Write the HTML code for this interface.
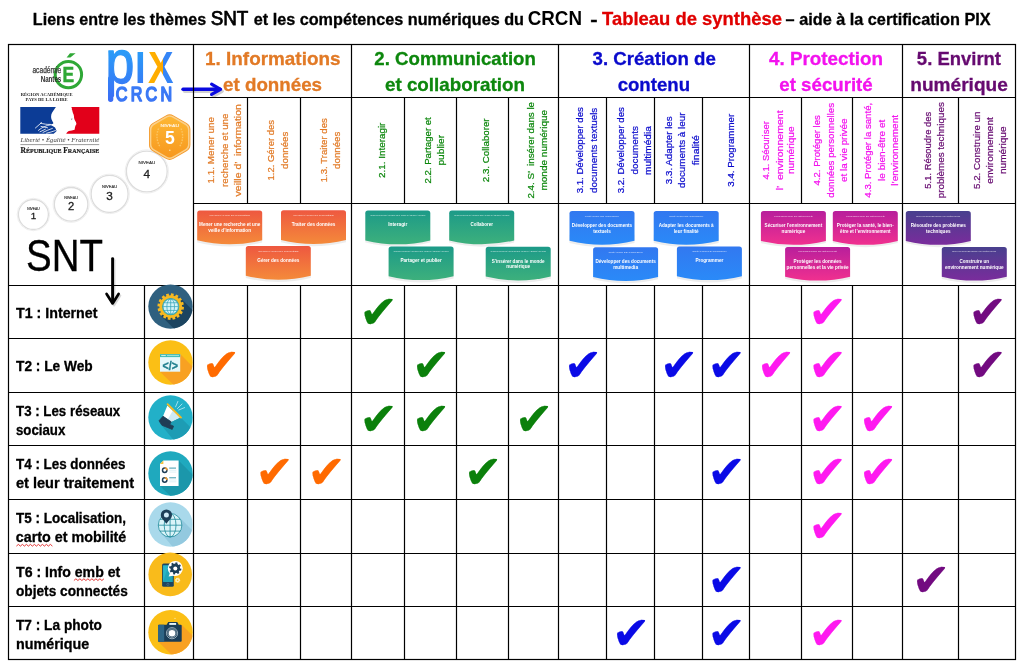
<!DOCTYPE html>
<html lang="fr"><head><meta charset="utf-8"><title>Liens SNT – CRCN : tableau de synthèse</title>
<style>html,body{margin:0;padding:0;background:#fff}body{width:1025px;height:665px;overflow:hidden}svg{display:block;will-change:transform}text{white-space:pre}</style></head><body>
<svg width="1025" height="665" viewBox="0 0 1025 665">
<defs>
<linearGradient id="go" x1="0" y1="0" x2="0" y2="1"><stop offset="0" stop-color="#ee5840"/><stop offset="1" stop-color="#f48a3a"/></linearGradient>
<linearGradient id="gg" x1="0" y1="0" x2="0" y2="1"><stop offset="0" stop-color="#1c9a88"/><stop offset="1" stop-color="#3db07c"/></linearGradient>
<linearGradient id="gb" x1="0" y1="0" x2="0" y2="1"><stop offset="0" stop-color="#3278f0"/><stop offset="1" stop-color="#2a8af8"/></linearGradient>
<linearGradient id="gm" x1="0" y1="0" x2="0" y2="1"><stop offset="0" stop-color="#b81f9c"/><stop offset="1" stop-color="#f0308f"/></linearGradient>
<linearGradient id="gp" x1="0" y1="0" x2="0" y2="1"><stop offset="0" stop-color="#48408e"/><stop offset="1" stop-color="#7a2c9c"/></linearGradient>
<linearGradient id="gpix" gradientUnits="userSpaceOnUse" x1="0" y1="-32" x2="0" y2="18"><stop offset="0" stop-color="#2a9cf8"/><stop offset="1" stop-color="#3b6cf5"/></linearGradient>
<linearGradient id="gpix2" gradientUnits="userSpaceOnUse" x1="0" y1="-22" x2="0" y2="22"><stop offset="0" stop-color="#3a7ef6"/><stop offset="1" stop-color="#3b6ef5"/></linearGradient>
<linearGradient id="gx" gradientUnits="userSpaceOnUse" x1="174.12" y1="0" x2="204.12" y2="0"><stop offset="0" stop-color="#ffb300"/><stop offset="0.57" stop-color="#ffa800"/><stop offset="0.57" stop-color="#3585f6"/><stop offset="1" stop-color="#3585f6"/></linearGradient>
<linearGradient id="gpixabs" gradientUnits="userSpaceOnUse" x1="0" y1="51" x2="0" y2="101"><stop offset="0" stop-color="#2a9cf8"/><stop offset="1" stop-color="#3b6cf5"/></linearGradient>
<linearGradient id="ghex" x1="0" y1="0" x2="0" y2="1"><stop offset="0" stop-color="#fdb734"/><stop offset="1" stop-color="#f7981f"/></linearGradient>
</defs>
<rect width="1025" height="665" fill="#fff"/>
<g id="title">
<text font-family="&quot;Liberation Sans&quot;, Arial, sans-serif" font-size="16.43" font-weight="bold" fill="#000" textLength="173.23" lengthAdjust="spacingAndGlyphs" x="32.86" y="24.60" stroke="#000" stroke-width="0.3">Liens entre les thèmes</text>
<text font-family="&quot;Liberation Sans&quot;, Arial, sans-serif" font-size="20.59" fill="#000" textLength="37.73" lengthAdjust="spacingAndGlyphs" x="210.65" y="24.60" stroke="#000" stroke-width="0.75">SNT</text>
<text font-family="&quot;Liberation Sans&quot;, Arial, sans-serif" font-size="16.43" font-weight="bold" fill="#000" textLength="270.24" lengthAdjust="spacingAndGlyphs" x="253.75" y="24.60" stroke="#000" stroke-width="0.3">et les compétences numériques du</text>
<text font-family="&quot;Liberation Sans&quot;, Arial, sans-serif" font-size="20.06" font-weight="bold" fill="#000" textLength="54.24" lengthAdjust="spacingAndGlyphs" x="527.75" y="24.60">CRCN</text>
<text font-family="&quot;Liberation Sans&quot;, Arial, sans-serif" font-size="16.43" font-weight="bold" fill="#000" textLength="7.31" lengthAdjust="spacingAndGlyphs" x="590.32" y="24.60" stroke="#000" stroke-width="0.3">-</text>
<text font-family="&quot;Liberation Sans&quot;, Arial, sans-serif" font-size="18.77" font-weight="bold" fill="#e00000" textLength="179.88" lengthAdjust="spacingAndGlyphs" x="602.02" y="24.60" stroke="#e00000" stroke-width="0.3">Tableau de synthèse</text>
<text font-family="&quot;Liberation Sans&quot;, Arial, sans-serif" font-size="16.43" font-weight="bold" fill="#000" textLength="205.07" lengthAdjust="spacingAndGlyphs" x="785.61" y="24.60" stroke="#000" stroke-width="0.3">– aide à la certification PIX</text>
</g>
<g id="headers">
<text font-family="&quot;Liberation Sans&quot;, Arial, sans-serif" font-size="18.77" font-weight="bold" fill="#e27a26" textLength="135.46" lengthAdjust="spacingAndGlyphs" x="205.04" y="65.00" stroke="#e27a26" stroke-width="0.3">1. Informations</text>
<text font-family="&quot;Liberation Sans&quot;, Arial, sans-serif" font-size="18.77" font-weight="bold" fill="#e27a26" textLength="98.96" lengthAdjust="spacingAndGlyphs" x="223.09" y="90.60" stroke="#e27a26" stroke-width="0.3">et données</text>
<text font-family="&quot;Liberation Sans&quot;, Arial, sans-serif" font-size="18.77" font-weight="bold" fill="#0d870d" textLength="161.47" lengthAdjust="spacingAndGlyphs" x="374.37" y="65.00" stroke="#0d870d" stroke-width="0.3">2. Communication</text>
<text font-family="&quot;Liberation Sans&quot;, Arial, sans-serif" font-size="18.77" font-weight="bold" fill="#0d870d" textLength="140.00" lengthAdjust="spacingAndGlyphs" x="384.95" y="90.60" stroke="#0d870d" stroke-width="0.3">et collaboration</text>
<text font-family="&quot;Liberation Sans&quot;, Arial, sans-serif" font-size="18.77" font-weight="bold" fill="#0a0acc" textLength="123.29" lengthAdjust="spacingAndGlyphs" x="592.56" y="65.00" stroke="#0a0acc" stroke-width="0.3">3. Création de</text>
<text font-family="&quot;Liberation Sans&quot;, Arial, sans-serif" font-size="18.77" font-weight="bold" fill="#0a0acc" textLength="72.43" lengthAdjust="spacingAndGlyphs" x="617.64" y="90.60" stroke="#0a0acc" stroke-width="0.3">contenu</text>
<text font-family="&quot;Liberation Sans&quot;, Arial, sans-serif" font-size="18.77" font-weight="bold" fill="#f312ee" textLength="113.96" lengthAdjust="spacingAndGlyphs" x="768.99" y="65.00" stroke="#f312ee" stroke-width="0.3">4. Protection</text>
<text font-family="&quot;Liberation Sans&quot;, Arial, sans-serif" font-size="18.77" font-weight="bold" fill="#f312ee" textLength="93.38" lengthAdjust="spacingAndGlyphs" x="779.33" y="90.60" stroke="#f312ee" stroke-width="0.3">et sécurité</text>
<text font-family="&quot;Liberation Sans&quot;, Arial, sans-serif" font-size="18.77" font-weight="bold" fill="#660a70" textLength="84.17" lengthAdjust="spacingAndGlyphs" x="916.87" y="65.00" stroke="#660a70" stroke-width="0.3">5. Envirnt</text>
<text font-family="&quot;Liberation Sans&quot;, Arial, sans-serif" font-size="18.77" font-weight="bold" fill="#660a70" textLength="97.50" lengthAdjust="spacingAndGlyphs" x="910.32" y="90.60" stroke="#660a70" stroke-width="0.3">numérique</text>
</g>
<g id="subheaders">
<text font-family="&quot;Liberation Sans&quot;, Arial, sans-serif" font-size="9.39" fill="#e27a26" textLength="66.50" lengthAdjust="spacingAndGlyphs" transform="translate(213.90,183.44) rotate(-90)" stroke="#e27a26" stroke-width="0.22">1.1. Mener une</text>
<text font-family="&quot;Liberation Sans&quot;, Arial, sans-serif" font-size="9.39" fill="#e27a26" textLength="73.47" lengthAdjust="spacingAndGlyphs" transform="translate(228.00,186.98) rotate(-90)" stroke="#e27a26" stroke-width="0.22">recherche et une</text>
<text font-family="&quot;Liberation Sans&quot;, Arial, sans-serif" font-size="9.39" fill="#e27a26" textLength="92.25" lengthAdjust="spacingAndGlyphs" transform="translate(241.00,196.39) rotate(-90)" stroke="#e27a26" stroke-width="0.22">veille d’  information</text>
<text font-family="&quot;Liberation Sans&quot;, Arial, sans-serif" font-size="9.39" fill="#e27a26" textLength="60.60" lengthAdjust="spacingAndGlyphs" transform="translate(274.00,180.49) rotate(-90)" stroke="#e27a26" stroke-width="0.22">1.2. Gérer des</text>
<text font-family="&quot;Liberation Sans&quot;, Arial, sans-serif" font-size="9.39" fill="#e27a26" textLength="37.29" lengthAdjust="spacingAndGlyphs" transform="translate(287.60,168.93) rotate(-90)" stroke="#e27a26" stroke-width="0.22">données</text>
<text font-family="&quot;Liberation Sans&quot;, Arial, sans-serif" font-size="9.39" fill="#e27a26" textLength="64.01" lengthAdjust="spacingAndGlyphs" transform="translate(326.70,182.22) rotate(-90)" stroke="#e27a26" stroke-width="0.22">1.3. Traiter des</text>
<text font-family="&quot;Liberation Sans&quot;, Arial, sans-serif" font-size="9.39" fill="#e27a26" textLength="37.29" lengthAdjust="spacingAndGlyphs" transform="translate(340.00,168.93) rotate(-90)" stroke="#e27a26" stroke-width="0.22">données</text>
<text font-family="&quot;Liberation Sans&quot;, Arial, sans-serif" font-size="9.39" fill="#0d870d" textLength="55.37" lengthAdjust="spacingAndGlyphs" transform="translate(385.30,178.01) rotate(-90)" stroke="#0d870d" stroke-width="0.22">2.1. Interagir</text>
<text font-family="&quot;Liberation Sans&quot;, Arial, sans-serif" font-size="9.39" fill="#0d870d" textLength="66.34" lengthAdjust="spacingAndGlyphs" transform="translate(431.30,183.54) rotate(-90)" stroke="#0d870d" stroke-width="0.22">2.2. Partager et</text>
<text font-family="&quot;Liberation Sans&quot;, Arial, sans-serif" font-size="9.39" fill="#0d870d" textLength="30.66" lengthAdjust="spacingAndGlyphs" transform="translate(444.20,165.59) rotate(-90)" stroke="#0d870d" stroke-width="0.22">publier</text>
<text font-family="&quot;Liberation Sans&quot;, Arial, sans-serif" font-size="9.39" fill="#0d870d" textLength="63.79" lengthAdjust="spacingAndGlyphs" transform="translate(489.30,182.20) rotate(-90)" stroke="#0d870d" stroke-width="0.22">2.3. Collaborer</text>
<text font-family="&quot;Liberation Sans&quot;, Arial, sans-serif" font-size="9.39" fill="#0d870d" textLength="96.63" lengthAdjust="spacingAndGlyphs" transform="translate(533.70,198.59) rotate(-90)" stroke="#0d870d" stroke-width="0.22">2.4. S’  insérer dans le</text>
<text font-family="&quot;Liberation Sans&quot;, Arial, sans-serif" font-size="9.39" fill="#0d870d" textLength="80.76" lengthAdjust="spacingAndGlyphs" transform="translate(547.00,190.61) rotate(-90)" stroke="#0d870d" stroke-width="0.22">monde numérique</text>
<text font-family="&quot;Liberation Sans&quot;, Arial, sans-serif" font-size="9.39" fill="#0a0acc" textLength="86.19" lengthAdjust="spacingAndGlyphs" transform="translate(583.20,193.34) rotate(-90)" stroke="#0a0acc" stroke-width="0.22">3.1. Développer des</text>
<text font-family="&quot;Liberation Sans&quot;, Arial, sans-serif" font-size="9.39" fill="#0a0acc" textLength="85.26" lengthAdjust="spacingAndGlyphs" transform="translate(596.80,192.93) rotate(-90)" stroke="#0a0acc" stroke-width="0.22">documents textuels</text>
<text font-family="&quot;Liberation Sans&quot;, Arial, sans-serif" font-size="9.39" fill="#0a0acc" textLength="86.19" lengthAdjust="spacingAndGlyphs" transform="translate(623.60,193.34) rotate(-90)" stroke="#0a0acc" stroke-width="0.22">3.2. Développer des</text>
<text font-family="&quot;Liberation Sans&quot;, Arial, sans-serif" font-size="9.39" fill="#0a0acc" textLength="48.51" lengthAdjust="spacingAndGlyphs" transform="translate(637.60,174.54) rotate(-90)" stroke="#0a0acc" stroke-width="0.22">documents</text>
<text font-family="&quot;Liberation Sans&quot;, Arial, sans-serif" font-size="9.39" fill="#0a0acc" textLength="48.78" lengthAdjust="spacingAndGlyphs" transform="translate(651.00,174.97) rotate(-90)" stroke="#0a0acc" stroke-width="0.22">multimédia</text>
<text font-family="&quot;Liberation Sans&quot;, Arial, sans-serif" font-size="9.39" fill="#0a0acc" textLength="67.79" lengthAdjust="spacingAndGlyphs" transform="translate(672.10,184.16) rotate(-90)" stroke="#0a0acc" stroke-width="0.22">3.3. Adapter les</text>
<text font-family="&quot;Liberation Sans&quot;, Arial, sans-serif" font-size="9.39" fill="#0a0acc" textLength="75.46" lengthAdjust="spacingAndGlyphs" transform="translate(685.40,188.05) rotate(-90)" stroke="#0a0acc" stroke-width="0.22">documents à leur</text>
<text font-family="&quot;Liberation Sans&quot;, Arial, sans-serif" font-size="9.39" fill="#0a0acc" textLength="30.14" lengthAdjust="spacingAndGlyphs" transform="translate(698.60,165.37) rotate(-90)" stroke="#0a0acc" stroke-width="0.22">finalité</text>
<text font-family="&quot;Liberation Sans&quot;, Arial, sans-serif" font-size="9.39" fill="#0a0acc" textLength="72.90" lengthAdjust="spacingAndGlyphs" transform="translate(733.70,186.72) rotate(-90)" stroke="#0a0acc" stroke-width="0.22">3.4. Programmer</text>
<text font-family="&quot;Liberation Sans&quot;, Arial, sans-serif" font-size="9.39" fill="#f312ee" textLength="58.31" lengthAdjust="spacingAndGlyphs" transform="translate(769.10,179.49) rotate(-90)" stroke="#f312ee" stroke-width="0.22">4.1. Sécuriser</text>
<text font-family="&quot;Liberation Sans&quot;, Arial, sans-serif" font-size="9.39" fill="#f312ee" textLength="79.87" lengthAdjust="spacingAndGlyphs" transform="translate(782.60,190.25) rotate(-90)" stroke="#f312ee" stroke-width="0.22">l’  environnement</text>
<text font-family="&quot;Liberation Sans&quot;, Arial, sans-serif" font-size="9.39" fill="#f312ee" textLength="47.69" lengthAdjust="spacingAndGlyphs" transform="translate(794.00,174.08) rotate(-90)" stroke="#f312ee" stroke-width="0.22">numérique</text>
<text font-family="&quot;Liberation Sans&quot;, Arial, sans-serif" font-size="9.39" fill="#f312ee" textLength="70.39" lengthAdjust="spacingAndGlyphs" transform="translate(819.80,185.52) rotate(-90)" stroke="#f312ee" stroke-width="0.22">4.2. Protéger les</text>
<text font-family="&quot;Liberation Sans&quot;, Arial, sans-serif" font-size="9.39" fill="#f312ee" textLength="94.84" lengthAdjust="spacingAndGlyphs" transform="translate(833.60,197.72) rotate(-90)" stroke="#f312ee" stroke-width="0.22">données personnelles</text>
<text font-family="&quot;Liberation Sans&quot;, Arial, sans-serif" font-size="9.39" fill="#f312ee" textLength="63.39" lengthAdjust="spacingAndGlyphs" transform="translate(846.60,181.97) rotate(-90)" stroke="#f312ee" stroke-width="0.22">et la vie privée</text>
<text font-family="&quot;Liberation Sans&quot;, Arial, sans-serif" font-size="9.39" fill="#f312ee" textLength="94.85" lengthAdjust="spacingAndGlyphs" transform="translate(870.50,197.65) rotate(-90)" stroke="#f312ee" stroke-width="0.22">4.3. Protéger la santé,</text>
<text font-family="&quot;Liberation Sans&quot;, Arial, sans-serif" font-size="9.39" fill="#f312ee" textLength="61.14" lengthAdjust="spacingAndGlyphs" transform="translate(884.60,180.88) rotate(-90)" stroke="#f312ee" stroke-width="0.22">le bien-être et</text>
<text font-family="&quot;Liberation Sans&quot;, Arial, sans-serif" font-size="9.39" fill="#f312ee" textLength="70.75" lengthAdjust="spacingAndGlyphs" transform="translate(898.00,185.69) rotate(-90)" stroke="#f312ee" stroke-width="0.22">l’environnement</text>
<text font-family="&quot;Liberation Sans&quot;, Arial, sans-serif" font-size="9.39" fill="#660a70" textLength="76.85" lengthAdjust="spacingAndGlyphs" transform="translate(931.40,188.66) rotate(-90)" stroke="#660a70" stroke-width="0.22">5.1. Résoudre des</text>
<text font-family="&quot;Liberation Sans&quot;, Arial, sans-serif" font-size="9.39" fill="#660a70" textLength="96.10" lengthAdjust="spacingAndGlyphs" transform="translate(944.40,198.29) rotate(-90)" stroke="#660a70" stroke-width="0.22">problèmes techniques</text>
<text font-family="&quot;Liberation Sans&quot;, Arial, sans-serif" font-size="9.39" fill="#660a70" textLength="77.36" lengthAdjust="spacingAndGlyphs" transform="translate(980.00,188.94) rotate(-90)" stroke="#660a70" stroke-width="0.22">5.2. Construire un</text>
<text font-family="&quot;Liberation Sans&quot;, Arial, sans-serif" font-size="9.39" fill="#660a70" textLength="66.50" lengthAdjust="spacingAndGlyphs" transform="translate(993.40,183.64) rotate(-90)" stroke="#660a70" stroke-width="0.22">environnement</text>
<text font-family="&quot;Liberation Sans&quot;, Arial, sans-serif" font-size="9.39" fill="#660a70" textLength="47.69" lengthAdjust="spacingAndGlyphs" transform="translate(1006.00,174.08) rotate(-90)" stroke="#660a70" stroke-width="0.22">numérique</text>
</g>
<g id="cards">
<path d="M197.2,234.3 L197.2,242.5 Q229.7,250.7 262.2,242.5 L262.2,234.3Z" fill="#000" opacity="0.07"/>
<path d="M197.2,213.1 Q197.2,210.5 199.8,210.5 L259.6,210.5 Q262.2,210.5 262.2,213.1 L262.2,240.3 Q229.7,248.1 197.2,240.3Z" fill="url(#go)"/>
<text font-family="&quot;Liberation Sans&quot;, Arial, sans-serif" font-size="2.40" fill="#fff" textLength="40.60" lengthAdjust="spacingAndGlyphs" x="209.40" y="216.00" opacity="0.72">INFORMATION ET DONNÉES</text>
<text font-family="&quot;Liberation Sans&quot;, Arial, sans-serif" font-size="4.75" font-weight="bold" fill="#fff" textLength="61.20" lengthAdjust="spacingAndGlyphs" x="199.10" y="226.30">Mener une recherche et une</text>
<text font-family="&quot;Liberation Sans&quot;, Arial, sans-serif" font-size="4.75" font-weight="bold" fill="#fff" textLength="42.70" lengthAdjust="spacingAndGlyphs" x="208.35" y="232.10">veille d’information</text>
<path d="M281.0,234.0 L281.0,242.2 Q313.5,250.4 346.0,242.2 L346.0,234.0Z" fill="#000" opacity="0.07"/>
<path d="M281.0,212.8 Q281.0,210.2 283.6,210.2 L343.4,210.2 Q346.0,210.2 346.0,212.8 L346.0,240.0 Q313.5,247.8 281.0,240.0Z" fill="url(#go)"/>
<text font-family="&quot;Liberation Sans&quot;, Arial, sans-serif" font-size="2.40" fill="#fff" textLength="40.60" lengthAdjust="spacingAndGlyphs" x="293.20" y="215.70" opacity="0.72">INFORMATION ET DONNÉES</text>
<text font-family="&quot;Liberation Sans&quot;, Arial, sans-serif" font-size="4.75" font-weight="bold" fill="#fff" textLength="43.70" lengthAdjust="spacingAndGlyphs" x="291.65" y="226.00">Traiter des données</text>
<path d="M245.8,269.8 L245.8,278.0 Q278.3,286.2 310.8,278.0 L310.8,269.8Z" fill="#000" opacity="0.07"/>
<path d="M245.8,248.6 Q245.8,246.0 248.4,246.0 L308.2,246.0 Q310.8,246.0 310.8,248.6 L310.8,275.8 Q278.3,283.6 245.8,275.8Z" fill="url(#go)"/>
<text font-family="&quot;Liberation Sans&quot;, Arial, sans-serif" font-size="2.40" fill="#fff" textLength="40.60" lengthAdjust="spacingAndGlyphs" x="258.00" y="251.50" opacity="0.72">INFORMATION ET DONNÉES</text>
<text font-family="&quot;Liberation Sans&quot;, Arial, sans-serif" font-size="4.75" font-weight="bold" fill="#fff" textLength="42.00" lengthAdjust="spacingAndGlyphs" x="257.30" y="261.80">Gérer des données</text>
<path d="M365.3,234.4 L365.3,242.6 Q397.8,250.8 430.3,242.6 L430.3,234.4Z" fill="#000" opacity="0.07"/>
<path d="M365.3,213.2 Q365.3,210.6 367.9,210.6 L427.7,210.6 Q430.3,210.6 430.3,213.2 L430.3,240.4 Q397.8,248.2 365.3,240.4Z" fill="url(#gg)"/>
<text font-family="&quot;Liberation Sans&quot;, Arial, sans-serif" font-size="2.40" fill="#fff" textLength="55.30" lengthAdjust="spacingAndGlyphs" x="370.15" y="216.10" opacity="0.72">COMMUNICATION ET COLLABORATION</text>
<text font-family="&quot;Liberation Sans&quot;, Arial, sans-serif" font-size="4.75" font-weight="bold" fill="#fff" textLength="19.00" lengthAdjust="spacingAndGlyphs" x="388.30" y="226.40">Interagir</text>
<path d="M449.2,234.4 L449.2,242.6 Q481.7,250.8 514.2,242.6 L514.2,234.4Z" fill="#000" opacity="0.07"/>
<path d="M449.2,213.2 Q449.2,210.6 451.8,210.6 L511.6,210.6 Q514.2,210.6 514.2,213.2 L514.2,240.4 Q481.7,248.2 449.2,240.4Z" fill="url(#gg)"/>
<text font-family="&quot;Liberation Sans&quot;, Arial, sans-serif" font-size="2.40" fill="#fff" textLength="55.30" lengthAdjust="spacingAndGlyphs" x="454.05" y="216.10" opacity="0.72">COMMUNICATION ET COLLABORATION</text>
<text font-family="&quot;Liberation Sans&quot;, Arial, sans-serif" font-size="4.75" font-weight="bold" fill="#fff" textLength="22.60" lengthAdjust="spacingAndGlyphs" x="470.40" y="226.40">Collaborer</text>
<path d="M388.6,270.2 L388.6,278.4 Q421.1,286.6 453.6,278.4 L453.6,270.2Z" fill="#000" opacity="0.07"/>
<path d="M388.6,249.0 Q388.6,246.4 391.2,246.4 L451.0,246.4 Q453.6,246.4 453.6,249.0 L453.6,276.2 Q421.1,284.0 388.6,276.2Z" fill="url(#gg)"/>
<text font-family="&quot;Liberation Sans&quot;, Arial, sans-serif" font-size="2.40" fill="#fff" textLength="55.30" lengthAdjust="spacingAndGlyphs" x="393.45" y="251.90" opacity="0.72">COMMUNICATION ET COLLABORATION</text>
<text font-family="&quot;Liberation Sans&quot;, Arial, sans-serif" font-size="4.75" font-weight="bold" fill="#fff" textLength="41.40" lengthAdjust="spacingAndGlyphs" x="400.40" y="262.20">Partager et publier</text>
<path d="M485.7,270.6 L485.7,278.8 Q518.2,287.0 550.7,278.8 L550.7,270.6Z" fill="#000" opacity="0.07"/>
<path d="M485.7,249.4 Q485.7,246.8 488.3,246.8 L548.1,246.8 Q550.7,246.8 550.7,249.4 L550.7,276.6 Q518.2,284.4 485.7,276.6Z" fill="url(#gg)"/>
<text font-family="&quot;Liberation Sans&quot;, Arial, sans-serif" font-size="2.40" fill="#fff" textLength="55.30" lengthAdjust="spacingAndGlyphs" x="490.55" y="252.30" opacity="0.72">COMMUNICATION ET COLLABORATION</text>
<text font-family="&quot;Liberation Sans&quot;, Arial, sans-serif" font-size="4.75" font-weight="bold" fill="#fff" textLength="52.90" lengthAdjust="spacingAndGlyphs" x="491.75" y="262.60">S’insérer dans le monde</text>
<text font-family="&quot;Liberation Sans&quot;, Arial, sans-serif" font-size="4.75" font-weight="bold" fill="#fff" textLength="23.80" lengthAdjust="spacingAndGlyphs" x="506.30" y="268.40">numérique</text>
<path d="M569.5,234.8 L569.5,243.0 Q602.0,251.2 634.5,243.0 L634.5,234.8Z" fill="#000" opacity="0.07"/>
<path d="M569.5,213.6 Q569.5,211.0 572.1,211.0 L631.9,211.0 Q634.5,211.0 634.5,213.6 L634.5,240.8 Q602.0,248.6 569.5,240.8Z" fill="url(#gb)"/>
<text font-family="&quot;Liberation Sans&quot;, Arial, sans-serif" font-size="2.40" fill="#fff" textLength="34.30" lengthAdjust="spacingAndGlyphs" x="584.85" y="216.50" opacity="0.72">CRÉATION DE CONTENU</text>
<text font-family="&quot;Liberation Sans&quot;, Arial, sans-serif" font-size="4.75" font-weight="bold" fill="#fff" textLength="60.40" lengthAdjust="spacingAndGlyphs" x="571.80" y="226.80">Développer des documents</text>
<text font-family="&quot;Liberation Sans&quot;, Arial, sans-serif" font-size="4.75" font-weight="bold" fill="#fff" textLength="17.60" lengthAdjust="spacingAndGlyphs" x="593.20" y="232.60">textuels</text>
<path d="M653.7,234.8 L653.7,243.0 Q686.2,251.2 718.7,243.0 L718.7,234.8Z" fill="#000" opacity="0.07"/>
<path d="M653.7,213.6 Q653.7,211.0 656.3,211.0 L716.1,211.0 Q718.7,211.0 718.7,213.6 L718.7,240.8 Q686.2,248.6 653.7,240.8Z" fill="url(#gb)"/>
<text font-family="&quot;Liberation Sans&quot;, Arial, sans-serif" font-size="2.40" fill="#fff" textLength="34.30" lengthAdjust="spacingAndGlyphs" x="669.05" y="216.50" opacity="0.72">CRÉATION DE CONTENU</text>
<text font-family="&quot;Liberation Sans&quot;, Arial, sans-serif" font-size="4.75" font-weight="bold" fill="#fff" textLength="55.00" lengthAdjust="spacingAndGlyphs" x="658.70" y="226.80">Adapter les documents à</text>
<text font-family="&quot;Liberation Sans&quot;, Arial, sans-serif" font-size="4.75" font-weight="bold" fill="#fff" textLength="24.80" lengthAdjust="spacingAndGlyphs" x="673.80" y="232.60">leur finalité</text>
<path d="M593.1,271.0 L593.1,279.2 Q625.6,287.4 658.1,279.2 L658.1,271.0Z" fill="#000" opacity="0.07"/>
<path d="M593.1,249.8 Q593.1,247.2 595.7,247.2 L655.5,247.2 Q658.1,247.2 658.1,249.8 L658.1,277.0 Q625.6,284.8 593.1,277.0Z" fill="url(#gb)"/>
<text font-family="&quot;Liberation Sans&quot;, Arial, sans-serif" font-size="2.40" fill="#fff" textLength="34.30" lengthAdjust="spacingAndGlyphs" x="608.45" y="252.70" opacity="0.72">CRÉATION DE CONTENU</text>
<text font-family="&quot;Liberation Sans&quot;, Arial, sans-serif" font-size="4.75" font-weight="bold" fill="#fff" textLength="60.30" lengthAdjust="spacingAndGlyphs" x="595.45" y="263.00">Développer des documents</text>
<text font-family="&quot;Liberation Sans&quot;, Arial, sans-serif" font-size="4.75" font-weight="bold" fill="#fff" textLength="24.90" lengthAdjust="spacingAndGlyphs" x="613.15" y="268.80">multimedia</text>
<path d="M676.9,270.2 L676.9,278.4 Q709.4,286.6 741.9,278.4 L741.9,270.2Z" fill="#000" opacity="0.07"/>
<path d="M676.9,249.0 Q676.9,246.4 679.5,246.4 L739.3,246.4 Q741.9,246.4 741.9,249.0 L741.9,276.2 Q709.4,284.0 676.9,276.2Z" fill="url(#gb)"/>
<text font-family="&quot;Liberation Sans&quot;, Arial, sans-serif" font-size="2.40" fill="#fff" textLength="34.30" lengthAdjust="spacingAndGlyphs" x="692.25" y="251.90" opacity="0.72">CRÉATION DE CONTENU</text>
<text font-family="&quot;Liberation Sans&quot;, Arial, sans-serif" font-size="4.75" font-weight="bold" fill="#fff" textLength="27.90" lengthAdjust="spacingAndGlyphs" x="695.45" y="262.20">Programmer</text>
<path d="M760.9,234.9 L760.9,243.1 Q793.4,251.3 825.9,243.1 L825.9,234.9Z" fill="#000" opacity="0.07"/>
<path d="M760.9,213.7 Q760.9,211.1 763.5,211.1 L823.3,211.1 Q825.9,211.1 825.9,213.7 L825.9,240.9 Q793.4,248.7 760.9,240.9Z" fill="url(#gm)"/>
<text font-family="&quot;Liberation Sans&quot;, Arial, sans-serif" font-size="2.40" fill="#fff" textLength="38.80" lengthAdjust="spacingAndGlyphs" x="774.00" y="216.60" opacity="0.72">PROTECTION ET SÉCURITÉ</text>
<text font-family="&quot;Liberation Sans&quot;, Arial, sans-serif" font-size="4.75" font-weight="bold" fill="#fff" textLength="57.60" lengthAdjust="spacingAndGlyphs" x="764.60" y="226.90">Sécuriser l’environnement</text>
<text font-family="&quot;Liberation Sans&quot;, Arial, sans-serif" font-size="4.75" font-weight="bold" fill="#fff" textLength="23.70" lengthAdjust="spacingAndGlyphs" x="781.55" y="232.70">numérique</text>
<path d="M832.8,234.9 L832.8,243.1 Q865.3,251.3 897.8,243.1 L897.8,234.9Z" fill="#000" opacity="0.07"/>
<path d="M832.8,213.7 Q832.8,211.1 835.4,211.1 L895.2,211.1 Q897.8,211.1 897.8,213.7 L897.8,240.9 Q865.3,248.7 832.8,240.9Z" fill="url(#gm)"/>
<text font-family="&quot;Liberation Sans&quot;, Arial, sans-serif" font-size="2.40" fill="#fff" textLength="38.80" lengthAdjust="spacingAndGlyphs" x="845.90" y="216.60" opacity="0.72">PROTECTION ET SÉCURITÉ</text>
<text font-family="&quot;Liberation Sans&quot;, Arial, sans-serif" font-size="4.75" font-weight="bold" fill="#fff" textLength="57.00" lengthAdjust="spacingAndGlyphs" x="836.80" y="226.90">Protéger la santé, le bien-</text>
<text font-family="&quot;Liberation Sans&quot;, Arial, sans-serif" font-size="4.75" font-weight="bold" fill="#fff" textLength="50.40" lengthAdjust="spacingAndGlyphs" x="840.10" y="232.70">être et l’environnement</text>
<path d="M785.1,270.7 L785.1,278.9 Q817.6,287.1 850.1,278.9 L850.1,270.7Z" fill="#000" opacity="0.07"/>
<path d="M785.1,249.5 Q785.1,246.9 787.7,246.9 L847.5,246.9 Q850.1,246.9 850.1,249.5 L850.1,276.7 Q817.6,284.5 785.1,276.7Z" fill="url(#gm)"/>
<text font-family="&quot;Liberation Sans&quot;, Arial, sans-serif" font-size="2.40" fill="#fff" textLength="38.80" lengthAdjust="spacingAndGlyphs" x="798.20" y="252.40" opacity="0.72">PROTECTION ET SÉCURITÉ</text>
<text font-family="&quot;Liberation Sans&quot;, Arial, sans-serif" font-size="4.75" font-weight="bold" fill="#fff" textLength="48.00" lengthAdjust="spacingAndGlyphs" x="793.60" y="262.70">Protéger les données</text>
<text font-family="&quot;Liberation Sans&quot;, Arial, sans-serif" font-size="4.75" font-weight="bold" fill="#fff" textLength="62.00" lengthAdjust="spacingAndGlyphs" x="786.60" y="268.50">personnelles et la vie privée</text>
<path d="M905.8,234.9 L905.8,243.1 Q938.3,251.3 970.8,243.1 L970.8,234.9Z" fill="#000" opacity="0.07"/>
<path d="M905.8,213.7 Q905.8,211.1 908.4,211.1 L968.2,211.1 Q970.8,211.1 970.8,213.7 L970.8,240.9 Q938.3,248.7 905.8,240.9Z" fill="url(#gp)"/>
<text font-family="&quot;Liberation Sans&quot;, Arial, sans-serif" font-size="2.40" fill="#fff" textLength="43.90" lengthAdjust="spacingAndGlyphs" x="916.35" y="216.60" opacity="0.72">ENVIRONNEMENT NUMÉRIQUE</text>
<text font-family="&quot;Liberation Sans&quot;, Arial, sans-serif" font-size="4.75" font-weight="bold" fill="#fff" textLength="55.20" lengthAdjust="spacingAndGlyphs" x="910.70" y="226.90">Résoudre des problèmes</text>
<text font-family="&quot;Liberation Sans&quot;, Arial, sans-serif" font-size="4.75" font-weight="bold" fill="#fff" textLength="24.50" lengthAdjust="spacingAndGlyphs" x="926.05" y="232.70">techniques</text>
<path d="M941.8,270.7 L941.8,278.9 Q974.3,287.1 1006.8,278.9 L1006.8,270.7Z" fill="#000" opacity="0.07"/>
<path d="M941.8,249.5 Q941.8,246.9 944.4,246.9 L1004.2,246.9 Q1006.8,246.9 1006.8,249.5 L1006.8,276.7 Q974.3,284.5 941.8,276.7Z" fill="url(#gp)"/>
<text font-family="&quot;Liberation Sans&quot;, Arial, sans-serif" font-size="2.40" fill="#fff" textLength="43.90" lengthAdjust="spacingAndGlyphs" x="952.35" y="252.40" opacity="0.72">ENVIRONNEMENT NUMÉRIQUE</text>
<text font-family="&quot;Liberation Sans&quot;, Arial, sans-serif" font-size="4.75" font-weight="bold" fill="#fff" textLength="29.60" lengthAdjust="spacingAndGlyphs" x="959.50" y="262.70">Construire un</text>
<text font-family="&quot;Liberation Sans&quot;, Arial, sans-serif" font-size="4.75" font-weight="bold" fill="#fff" textLength="58.70" lengthAdjust="spacingAndGlyphs" x="944.95" y="268.50">environnement numérique</text>
</g>
<g id="topleft">
<circle cx="68.4" cy="74.6" r="13.2" fill="none" stroke="#2fa836" stroke-width="3"/>
<path d="M66.6,57.6 L70.0,53.2 L75.6,53.2 L70.4,57.6Z" fill="#2fa836"/>
<text font-family="&quot;Liberation Sans&quot;, Arial, sans-serif" font-size="21.90" font-weight="bold" fill="#2fa836" textLength="11.60" lengthAdjust="spacingAndGlyphs" x="62.60" y="82.10" stroke="#2fa836" stroke-width="0.5">E</text>
<text font-family="&quot;Liberation Sans&quot;, Arial, sans-serif" font-size="8.60" fill="#3a3a3a" textLength="28.90" lengthAdjust="spacingAndGlyphs" x="32.40" y="72.70" stroke="#3a3a3a" stroke-width="0.25">académie</text>
<text font-family="&quot;Liberation Sans&quot;, Arial, sans-serif" font-size="8.60" font-weight="bold" fill="#2a2a2a" textLength="20.60" lengthAdjust="spacingAndGlyphs" x="40.70" y="81.90">Nantes</text>
<text font-family="&quot;Liberation Serif&quot;, &quot;Times New Roman&quot;, serif" font-size="4.40" font-weight="bold" fill="#222" textLength="51.80" lengthAdjust="spacingAndGlyphs" x="20.70" y="95.80">RÉGION ACADÉMIQUE</text>
<text font-family="&quot;Liberation Serif&quot;, &quot;Times New Roman&quot;, serif" font-size="4.40" font-weight="bold" fill="#222" textLength="42.00" lengthAdjust="spacingAndGlyphs" x="25.60" y="100.90">PAYS DE LA LOIRE</text>
<path d="M20.3,107.1 L55.9,107.1 C54.6,109 53.4,110.6 52.2,112.6 C50.8,115 50.9,117.6 51.6,119.6 C52.2,121.2 53.0,122.2 53.4,123.2 C52.4,124.2 50.6,124.6 49.4,124.6 C51.8,125.6 53.6,126.4 55.0,127.6 C55.6,128.8 56.2,130 56.6,131 C55.6,132.2 54.6,133 53.6,133.8 L20.3,133.8Z" fill="#0c3c96"/>
<g stroke="#fff" stroke-width="0.8" fill="none" stroke-linecap="round"><path d="M35.4,128 L41.6,122.6"/><path d="M38.4,130.4 C42,127.4 46,125.4 50.6,124.8"/><path d="M40.4,123.2 C44,124 47,124.6 50,124.4"/><path d="M41,126.4 L47.6,127.8"/><path d="M43,132.4 C46,130.8 49,129.6 52.4,128.4"/><path d="M46.6,133.2 C49.6,132.4 52.6,131.6 55.4,130.6"/><path d="M40,131.8 L45.4,129.2"/></g>
<path d="M71.3,107.1 L99.3,107.1 L99.3,133.8 L66.2,133.8 C67,132.4 67.8,131.6 68.8,131 C70.8,130.6 72.8,130.4 74.6,129.8 C74.8,128.2 75,127 75.4,125.7 C76,125 76.4,124.4 76.4,123.7 C76.2,123 75.9,122.4 75.6,121.6 C75,120.4 74.4,119.2 74.1,117.9 C74.2,117 73.9,115.8 73.7,114.7 C73.2,113.6 72.8,112.6 72.5,111.4 C72.6,110.6 72.2,110 71.8,109.4 C72.2,108.6 71.6,107.8 71.3,107.1Z" fill="#e2001a"/>
<path d="M70.8,118.8 L72.6,118.6 L71.8,120.2Z" fill="#8a8f98"/>
<text font-family="&quot;Liberation Serif&quot;, &quot;Times New Roman&quot;, serif" font-size="6.60" font-style="italic" fill="#444" textLength="79.00" lengthAdjust="spacingAndGlyphs" x="20.40" y="141.60">Liberté • Égalité • Fraternité</text>
<line x1="20.4" y1="144.6" x2="99.2" y2="144.6" stroke="#555" stroke-width="0.6"/>
<text x="20.6" y="152.8" font-family="&quot;Liberation Serif&quot;, &quot;Times New Roman&quot;, serif" font-weight="bold" fill="#1a1a1a" stroke="#1a1a1a" stroke-width="0.2" textLength="78.8" lengthAdjust="spacingAndGlyphs" font-size="6.1"><tspan font-size="7.6">R</tspan>ÉPUBLIQUE <tspan font-size="7.6">F</tspan>RANÇAISE</text>
<rect x="108.0" y="76" width="5.3" height="25.9" rx="2.6" fill="url(#gpixabs)"/>
<text font-family="&quot;Liberation Sans&quot;, Arial, sans-serif" transform="scale(0.85,1)"><tspan x="124.00" y="83.0" font-size="61" fill="url(#gpixabs)" stroke="url(#gpixabs)" stroke-width="1.3" stroke-linejoin="round">p</tspan><tspan x="158.71" y="82.6" font-size="45" font-weight="bold" fill="url(#gpixabs)">I</tspan><tspan x="174.12" y="82.6" font-size="45" font-weight="bold" fill="url(#gx)">X</tspan></text>
<text font-family="&quot;Liberation Sans&quot;, Arial, sans-serif" font-size="20.6" fill="url(#gpix2)" stroke="url(#gpix2)" stroke-width="1.7" stroke-linejoin="round" letter-spacing="4.3" transform="translate(115.7,100.5) scale(0.78,1)">CRCN</text>
<g fill="none" stroke-linecap="round" stroke-linejoin="round"><g stroke="#000" opacity="0.18" transform="translate(1.6,2)"><path d="M183,89.3 L220,89.3" stroke-width="3.4"/><path d="M211.6,84.2 L220.6,89.3 L211.6,94.4" stroke-width="3.2"/></g><path d="M183,89.3 L220,89.3" stroke="#0a0ae0" stroke-width="3.4"/><path d="M211.6,84.2 L220.6,89.3 L211.6,94.4" stroke="#0a0ae0" stroke-width="3.2"/></g>
<circle cx="33.4" cy="214.5" r="15.0" fill="#fff" stroke="#dcdcdc" stroke-width="1.3"/>
<circle cx="33.4" cy="214.5" r="16.2" fill="none" stroke="#eee" stroke-width="1"/>
<text font-family="&quot;Liberation Sans&quot;, Arial, sans-serif" font-size="2.80" fill="#333" textLength="12.30" lengthAdjust="spacingAndGlyphs" x="27.25" y="209.60" stroke="#333" stroke-width="0.12">NIVEAU</text>
<text font-family="&quot;Liberation Sans&quot;, Arial, sans-serif" font-size="9.80" fill="#222" text-anchor="middle" x="33.40" y="219.30" stroke="#222" stroke-width="0.3">1</text>
<circle cx="71.1" cy="204.3" r="16.8" fill="#fff" stroke="#dcdcdc" stroke-width="1.3"/>
<circle cx="71.1" cy="204.3" r="18.0" fill="none" stroke="#eee" stroke-width="1"/>
<text font-family="&quot;Liberation Sans&quot;, Arial, sans-serif" font-size="3.10" fill="#333" textLength="13.78" lengthAdjust="spacingAndGlyphs" x="64.21" y="198.68" stroke="#333" stroke-width="0.12">NIVEAU</text>
<text font-family="&quot;Liberation Sans&quot;, Arial, sans-serif" font-size="11.20" fill="#222" text-anchor="middle" x="71.10" y="210.10" stroke="#222" stroke-width="0.3">2</text>
<circle cx="109.6" cy="193.9" r="18.5" fill="#fff" stroke="#dcdcdc" stroke-width="1.3"/>
<circle cx="109.6" cy="193.9" r="19.7" fill="none" stroke="#eee" stroke-width="1"/>
<text font-family="&quot;Liberation Sans&quot;, Arial, sans-serif" font-size="3.38" fill="#333" textLength="15.17" lengthAdjust="spacingAndGlyphs" x="102.02" y="187.60" stroke="#333" stroke-width="0.12">NIVEAU</text>
<text font-family="&quot;Liberation Sans&quot;, Arial, sans-serif" font-size="11.80" fill="#222" text-anchor="middle" x="109.60" y="199.80" stroke="#222" stroke-width="0.3">3</text>
<circle cx="146.8" cy="171.5" r="20.4" fill="#fff" stroke="#dcdcdc" stroke-width="1.3"/>
<circle cx="146.8" cy="171.5" r="21.599999999999998" fill="none" stroke="#eee" stroke-width="1"/>
<text font-family="&quot;Liberation Sans&quot;, Arial, sans-serif" font-size="3.70" fill="#333" textLength="16.73" lengthAdjust="spacingAndGlyphs" x="138.44" y="164.44" stroke="#333" stroke-width="0.12">NIVEAU</text>
<text font-family="&quot;Liberation Sans&quot;, Arial, sans-serif" font-size="11.80" fill="#222" text-anchor="middle" x="146.80" y="178.40" stroke="#222" stroke-width="0.3">4</text>
<path d="M173.51,115.40 Q169.70,113.20 165.89,115.40 L152.81,122.95 Q149.00,125.15 149.00,129.55 L149.00,144.65 Q149.00,149.05 152.81,151.25 L165.89,158.80 Q169.70,161.00 173.51,158.80 L186.59,151.25 Q190.40,149.05 190.40,144.65 L190.40,129.55 Q190.40,125.15 186.59,122.95 Z" fill="#f49a2c"/>
<path d="M173.25,116.25 Q169.70,114.20 166.15,116.25 L153.42,123.60 Q149.87,125.65 149.87,129.75 L149.87,144.45 Q149.87,148.55 153.42,150.60 L166.15,157.95 Q169.70,160.00 173.25,157.95 L185.98,150.60 Q189.53,148.55 189.53,144.45 L189.53,129.75 Q189.53,125.65 185.98,123.60 Z" fill="#fbd08a"/>
<path d="M172.90,117.75 Q169.70,115.90 166.50,117.75 L154.54,124.65 Q151.34,126.50 151.34,130.20 L151.34,144.00 Q151.34,147.70 154.54,149.55 L166.50,156.45 Q169.70,158.30 172.90,156.45 L184.86,149.55 Q188.06,147.70 188.06,144.00 L188.06,130.20 Q188.06,126.50 184.86,124.65 Z" fill="url(#ghex)"/>
<g fill="none" stroke="#fcc766" stroke-width="1.4" stroke-dasharray="1.6 1.2" opacity="0.9"><path d="M158.6,128.5 Q154.6,138 160.4,147.4"/><path d="M181,128.5 Q185,138 179.2,147.4"/></g>
<text font-family="&quot;Liberation Sans&quot;, Arial, sans-serif" font-size="3.00" fill="#fff" textLength="18.40" lengthAdjust="spacingAndGlyphs" x="160.60" y="126.90" opacity="0.85" stroke="#fff" stroke-width="0.12">NIVEAU</text>
<text font-family="&quot;Liberation Sans&quot;, Arial, sans-serif" font-size="17.60" font-weight="bold" fill="#fff" text-anchor="middle" x="169.90" y="144.10">5</text>
<circle cx="169.8" cy="150.2" r="0.8" fill="#fde0a0"/>
<text font-family="&quot;Liberation Sans&quot;, Arial, sans-serif" font-size="44.50" fill="#000" textLength="76.90" lengthAdjust="spacingAndGlyphs" x="26.07" y="271.00" stroke="#000" stroke-width="0.3">SNT</text>
<g fill="none" stroke-linecap="round" stroke-linejoin="round"><g stroke="#000" opacity="0.15" transform="translate(1.4,1.6)"><path d="M112.6,258.6 L112.6,302" stroke-width="2.9"/><path d="M106.6,294 L112.6,303.4 L118.6,294" stroke-width="2.7"/></g><path d="M112.6,258.6 L112.6,302" stroke="#000" stroke-width="2.9"/><path d="M106.6,294 L112.6,303.4 L118.6,294" stroke="#000" stroke-width="2.7"/></g>
</g>
<g id="labels">
<text font-family="&quot;Liberation Sans&quot;, Arial, sans-serif" font-size="14.08" font-weight="bold" fill="#000" textLength="81.44" lengthAdjust="spacingAndGlyphs" x="16.02" y="317.80" stroke="#000" stroke-width="0.3">T1 : Internet</text>
<text font-family="&quot;Liberation Sans&quot;, Arial, sans-serif" font-size="14.08" font-weight="bold" fill="#000" textLength="76.66" lengthAdjust="spacingAndGlyphs" x="16.02" y="371.30" stroke="#000" stroke-width="0.3">T2 : Le Web</text>
<text font-family="&quot;Liberation Sans&quot;, Arial, sans-serif" font-size="14.08" font-weight="bold" fill="#000" textLength="104.23" lengthAdjust="spacingAndGlyphs" x="16.03" y="415.50" stroke="#000" stroke-width="0.3">T3 : Les réseaux</text>
<text font-family="&quot;Liberation Sans&quot;, Arial, sans-serif" font-size="14.08" font-weight="bold" fill="#000" textLength="49.40" lengthAdjust="spacingAndGlyphs" x="15.94" y="434.60" stroke="#000" stroke-width="0.3">sociaux</text>
<text font-family="&quot;Liberation Sans&quot;, Arial, sans-serif" font-size="14.08" font-weight="bold" fill="#000" textLength="109.45" lengthAdjust="spacingAndGlyphs" x="16.03" y="469.00" stroke="#000" stroke-width="0.3">T4 : Les données</text>
<text font-family="&quot;Liberation Sans&quot;, Arial, sans-serif" font-size="14.08" font-weight="bold" fill="#000" textLength="118.22" lengthAdjust="spacingAndGlyphs" x="15.90" y="488.10" stroke="#000" stroke-width="0.3">et leur traitement</text>
<text font-family="&quot;Liberation Sans&quot;, Arial, sans-serif" font-size="14.08" font-weight="bold" fill="#000" textLength="110.01" lengthAdjust="spacingAndGlyphs" x="16.03" y="523.00" stroke="#000" stroke-width="0.3">T5 : Localisation,</text>
<text font-family="&quot;Liberation Sans&quot;, Arial, sans-serif" font-size="14.08" font-weight="bold" fill="#000" textLength="110.50" lengthAdjust="spacingAndGlyphs" x="15.83" y="542.10" stroke="#000" stroke-width="0.3">carto et mobilité</text>
<text font-family="&quot;Liberation Sans&quot;, Arial, sans-serif" font-size="14.08" font-weight="bold" fill="#000" textLength="104.18" lengthAdjust="spacingAndGlyphs" x="16.02" y="576.50" stroke="#000" stroke-width="0.3">T6 : Info emb et</text>
<text font-family="&quot;Liberation Sans&quot;, Arial, sans-serif" font-size="14.08" font-weight="bold" fill="#000" textLength="111.88" lengthAdjust="spacingAndGlyphs" x="15.93" y="595.60" stroke="#000" stroke-width="0.3">objets connectés</text>
<text font-family="&quot;Liberation Sans&quot;, Arial, sans-serif" font-size="14.08" font-weight="bold" fill="#000" textLength="85.83" lengthAdjust="spacingAndGlyphs" x="16.02" y="629.50" stroke="#000" stroke-width="0.3">T7 : La photo</text>
<text font-family="&quot;Liberation Sans&quot;, Arial, sans-serif" font-size="14.08" font-weight="bold" fill="#000" textLength="73.14" lengthAdjust="spacingAndGlyphs" x="16.03" y="648.60" stroke="#000" stroke-width="0.3">numérique</text>
<path d="M16.4,546.1 L18.4,544.4 L20.4,546.1 L22.4,544.4 L24.4,546.1 L26.4,544.4 L28.4,546.1 L30.4,544.4 L32.4,546.1 L34.4,544.4 L36.4,546.1 L38.4,544.4 L40.4,546.1 L42.4,544.4 L44.4,546.1 L46.4,544.4 L48.4,546.1 L50.4,544.4 L52.4,546.1" fill="none" stroke="#e02020" stroke-width="0.9" stroke-linejoin="round"/>
<path d="M73.9,580.5 L75.9,578.8 L77.9,580.5 L79.9,578.8 L81.9,580.5 L83.9,578.8 L85.9,580.5 L87.9,578.8 L89.9,580.5 L91.9,578.8 L93.9,580.5 L95.9,578.8 L97.9,580.5 L99.9,578.8 L101.9,580.5 L103.9,578.8" fill="none" stroke="#e02020" stroke-width="0.9" stroke-linejoin="round"/>
</g>
<g id="grid" shape-rendering="auto">
<rect x="8.5" y="44.5" width="1007.0" height="615.0" fill="none" stroke="#000" stroke-width="1.2"/>
<line x1="193.5" y1="44.5" x2="193.5" y2="659.5" stroke="#000" stroke-width="1.2"/>
<line x1="351.5" y1="44.5" x2="351.5" y2="659.5" stroke="#000" stroke-width="1.2"/>
<line x1="558.5" y1="44.5" x2="558.5" y2="659.5" stroke="#000" stroke-width="1.2"/>
<line x1="749.5" y1="44.5" x2="749.5" y2="659.5" stroke="#000" stroke-width="1.2"/>
<line x1="902.5" y1="44.5" x2="902.5" y2="659.5" stroke="#000" stroke-width="1.2"/>
<line x1="144.5" y1="285.5" x2="144.5" y2="659.5" stroke="#000" stroke-width="1.2"/>
<line x1="247.5" y1="97.5" x2="247.5" y2="203.5" stroke="#000" stroke-width="1.2"/>
<line x1="247.5" y1="285.5" x2="247.5" y2="659.5" stroke="#000" stroke-width="1.2"/>
<line x1="300.5" y1="97.5" x2="300.5" y2="203.5" stroke="#000" stroke-width="1.2"/>
<line x1="300.5" y1="285.5" x2="300.5" y2="659.5" stroke="#000" stroke-width="1.2"/>
<line x1="404.5" y1="97.5" x2="404.5" y2="203.5" stroke="#000" stroke-width="1.2"/>
<line x1="404.5" y1="285.5" x2="404.5" y2="659.5" stroke="#000" stroke-width="1.2"/>
<line x1="456.5" y1="97.5" x2="456.5" y2="203.5" stroke="#000" stroke-width="1.2"/>
<line x1="456.5" y1="285.5" x2="456.5" y2="659.5" stroke="#000" stroke-width="1.2"/>
<line x1="508.5" y1="97.5" x2="508.5" y2="203.5" stroke="#000" stroke-width="1.2"/>
<line x1="508.5" y1="285.5" x2="508.5" y2="659.5" stroke="#000" stroke-width="1.2"/>
<line x1="606.5" y1="97.5" x2="606.5" y2="203.5" stroke="#000" stroke-width="1.2"/>
<line x1="606.5" y1="285.5" x2="606.5" y2="659.5" stroke="#000" stroke-width="1.2"/>
<line x1="654.5" y1="97.5" x2="654.5" y2="203.5" stroke="#000" stroke-width="1.2"/>
<line x1="654.5" y1="285.5" x2="654.5" y2="659.5" stroke="#000" stroke-width="1.2"/>
<line x1="702.5" y1="97.5" x2="702.5" y2="203.5" stroke="#000" stroke-width="1.2"/>
<line x1="702.5" y1="285.5" x2="702.5" y2="659.5" stroke="#000" stroke-width="1.2"/>
<line x1="801.5" y1="97.5" x2="801.5" y2="203.5" stroke="#000" stroke-width="1.2"/>
<line x1="801.5" y1="285.5" x2="801.5" y2="659.5" stroke="#000" stroke-width="1.2"/>
<line x1="852.5" y1="97.5" x2="852.5" y2="203.5" stroke="#000" stroke-width="1.2"/>
<line x1="852.5" y1="285.5" x2="852.5" y2="659.5" stroke="#000" stroke-width="1.2"/>
<line x1="958.5" y1="97.5" x2="958.5" y2="203.5" stroke="#000" stroke-width="1.2"/>
<line x1="958.5" y1="285.5" x2="958.5" y2="659.5" stroke="#000" stroke-width="1.2"/>
<line x1="193.5" y1="97.5" x2="1015.5" y2="97.5" stroke="#000" stroke-width="1.2"/>
<line x1="193.5" y1="203.5" x2="1015.5" y2="203.5" stroke="#000" stroke-width="1.2"/>
<line x1="8.5" y1="285.5" x2="1015.5" y2="285.5" stroke="#000" stroke-width="1.2"/>
<line x1="8.5" y1="338.5" x2="1015.5" y2="338.5" stroke="#000" stroke-width="1.2"/>
<line x1="8.5" y1="392.5" x2="1015.5" y2="392.5" stroke="#000" stroke-width="1.2"/>
<line x1="8.5" y1="445.5" x2="1015.5" y2="445.5" stroke="#000" stroke-width="1.2"/>
<line x1="8.5" y1="499.5" x2="1015.5" y2="499.5" stroke="#000" stroke-width="1.2"/>
<line x1="8.5" y1="553.5" x2="1015.5" y2="553.5" stroke="#000" stroke-width="1.2"/>
<line x1="8.5" y1="606.5" x2="1015.5" y2="606.5" stroke="#000" stroke-width="1.2"/>
</g>
<g id="icons">
<circle cx="170.5" cy="306.6" r="22.2" fill="#2f607f"/>
<clipPath id="c1"><circle cx="170.5" cy="306.6" r="22.2"/></clipPath>
<polygon points="179.8,297.3 210.5,328.0 191.9,346.6 161.2,315.9" fill="#1c4460" opacity="1" clip-path="url(#c1)"/>
<path d="M181.70,306.60 L184.00,306.91 L183.63,309.70 L181.33,309.42 L180.86,310.81 L182.86,311.98 L181.46,314.42 L179.44,313.27 L178.48,314.38 L179.88,316.22 L177.65,317.94 L176.22,316.11 L174.91,316.76 L175.50,319.00 L172.78,319.74 L172.16,317.50 L170.70,317.60 L170.39,319.90 L167.60,319.53 L167.88,317.23 L166.49,316.76 L165.32,318.76 L162.88,317.36 L164.03,315.34 L162.92,314.38 L161.08,315.78 L159.36,313.55 L161.19,312.12 L160.54,310.81 L158.30,311.40 L157.56,308.68 L159.80,308.06 L159.70,306.60 L157.40,306.29 L157.77,303.50 L160.07,303.78 L160.54,302.39 L158.54,301.22 L159.94,298.78 L161.96,299.93 L162.92,298.82 L161.52,296.98 L163.75,295.26 L165.18,297.09 L166.49,296.44 L165.90,294.20 L168.62,293.46 L169.24,295.70 L170.70,295.60 L171.01,293.30 L173.80,293.67 L173.52,295.97 L174.91,296.44 L176.08,294.44 L178.52,295.84 L177.37,297.86 L178.48,298.82 L180.32,297.42 L182.04,299.65 L180.21,301.08 L180.86,302.39 L183.10,301.80 L183.84,304.52 L181.60,305.14 Z" fill="#f6b921"/>
<circle cx="170.7" cy="306.6" r="11.2" fill="#f6b921"/>
<circle cx="170.7" cy="306.6" r="8.6" fill="#3aa9a4"/>
<g fill="none" stroke="#3aa6b9" stroke-width="0.75"><circle cx="170.7" cy="306.6" r="7.7" fill="#d3f3f8"/><ellipse cx="170.7" cy="306.6" rx="3.85" ry="7.7"/><line x1="170.7" y1="298.90000000000003" x2="170.7" y2="314.3"/><line x1="163.0" y1="306.6" x2="178.39999999999998" y2="306.6"/><line x1="164.00" y1="302.75" x2="177.40" y2="302.75"/><line x1="164.00" y1="310.45" x2="177.40" y2="310.45"/></g>
<circle cx="170.5" cy="362.5" r="22.2" fill="#fbbf15"/>
<clipPath id="c2"><circle cx="170.5" cy="362.5" r="22.2"/></clipPath>
<polygon points="180.2,354.1 210.5,384.4 191.5,402.3 160.0,371.7" fill="#f8a122" opacity="1" clip-path="url(#c2)"/>
<rect x="160" y="354.1" width="20.2" height="17.6" fill="#e4f7fa"/>
<rect x="160" y="354.1" width="20.2" height="3" fill="#3dbab2"/>
<rect x="161.2" y="355" width="4.6" height="1.1" fill="#e4f7fa" opacity="0.8"/><rect x="167" y="355" width="12" height="1.1" fill="#bfeee9" opacity="0.7"/>
<text font-family="&quot;Liberation Sans&quot;, Arial, sans-serif" font-size="13.20" font-weight="bold" fill="#1f7f8e" textLength="15.50" lengthAdjust="spacingAndGlyphs" x="162.50" y="369.50" stroke="#1f7f8e" stroke-width="0.35">&lt;/&gt;</text>
<circle cx="170.5" cy="417.5" r="22.2" fill="#22b0c8"/>
<clipPath id="c3"><circle cx="170.5" cy="417.5" r="22.2"/></clipPath>
<polygon points="167.6,404.4 200.0,436.8 190.0,460.0 162.0,426.0" fill="#1d9cb4" opacity="1" clip-path="url(#c3)"/>
<polygon points="167.4,405.6 179.9,417.4 171.2,421.8 163,416.2" fill="#fff"/>
<polygon points="172.6,411 179.9,417.4 171.2,421.8 167.6,419.4" fill="#cfeaf4"/>
<path d="M167.6,404.2 L181,417.6" stroke="#f6b921" stroke-width="1.9" stroke-linecap="round" fill="none"/>
<polygon points="163,416.2 171.2,421.8 169.8,424.4 173.6,426.2 172.2,429.4 161.8,425.2 159,420.8" fill="#1f3d56" stroke="#1f3d56" stroke-width="0.8" stroke-linejoin="round"/>
<g stroke="#d8f4fa" stroke-width="0.7" stroke-linecap="round"><line x1="175.6" y1="406.8" x2="177.9" y2="401.4"/><line x1="177.4" y1="408.6" x2="182" y2="404"/><line x1="178.8" y1="410" x2="184.6" y2="407.6"/></g>
<circle cx="170.5" cy="473.5" r="22.2" fill="#1fa9be"/>
<clipPath id="c4"><circle cx="170.5" cy="473.5" r="22.2"/></clipPath>
<polygon points="178.6,460.6 205.0,487.0 185.0,510.0 160.0,485.9" fill="#1b97ab" opacity="1" clip-path="url(#c4)"/>
<polygon points="163.4,460.6 178.6,460.6 178.6,485.9 160,485.9 160,464" fill="#fff"/>
<polygon points="163.4,460.6 163.4,464 160,464" fill="#f6c23a"/>
<circle cx="164.7" cy="470.3" r="2.2" fill="none" stroke="#1f3d56" stroke-width="1.5"/>
<path d="M164.7,468.1 A2.2,2.2 0 0 1 166.9,470.3" fill="none" stroke="#f39a2a" stroke-width="1.5"/>
<line x1="169.2" y1="468.1" x2="176" y2="468.1" stroke="#2a8fa3" stroke-width="0.9"/>
<line x1="169.2" y1="470.3" x2="176.4" y2="470.3" stroke="#bfe3ea" stroke-width="0.5"/><line x1="169.2" y1="472.1" x2="176.4" y2="472.1" stroke="#bfe3ea" stroke-width="0.5"/>
<circle cx="164.7" cy="480.0" r="2.2" fill="none" stroke="#1f3d56" stroke-width="1.5"/>
<path d="M164.7,477.8 A2.2,2.2 0 0 1 166.9,480.0" fill="none" stroke="#f39a2a" stroke-width="1.5"/>
<line x1="169.2" y1="477.8" x2="176" y2="477.8" stroke="#2a8fa3" stroke-width="0.9"/>
<line x1="169.2" y1="480.0" x2="176.4" y2="480.0" stroke="#bfe3ea" stroke-width="0.5"/><line x1="169.2" y1="481.8" x2="176.4" y2="481.8" stroke="#bfe3ea" stroke-width="0.5"/>
<circle cx="170.5" cy="524.5" r="22.2" fill="#a9d9eb"/>
<clipPath id="c5"><circle cx="170.5" cy="524.5" r="22.2"/></clipPath>
<polygon points="178.6,516.4 205.0,543.0 185.0,562.0 161.6,533.4" fill="#93c9df" opacity="1" clip-path="url(#c5)"/>
<g fill="none" stroke="#1f8a9b" stroke-width="0.8"><circle cx="170.1" cy="525.2" r="11.8" fill="#daf4f9"/><ellipse cx="170.1" cy="525.2" rx="5.90" ry="11.8"/><line x1="170.1" y1="513.4000000000001" x2="170.1" y2="537.0"/><line x1="158.29999999999998" y1="525.2" x2="181.9" y2="525.2"/><line x1="159.83" y1="519.30" x2="180.37" y2="519.30"/><line x1="159.83" y1="531.10" x2="180.37" y2="531.10"/></g>
<path d="M166.4,523.8 C164.4,520.6 160.8,518.6 160.8,515 A5.6,5.6 0 1 1 172,515 C172,518.6 168.4,520.6 166.4,523.8Z" fill="#1d3f58"/>
<circle cx="166.4" cy="515" r="2.5" fill="#cfeaf6"/>
<circle cx="170.2" cy="574.4" r="21.8" fill="#f9bb1b"/>
<rect x="162.1" y="563.4" width="11.7" height="23.4" rx="1.6" fill="#1d4560"/>
<rect x="163.1" y="565.4" width="9.7" height="16.6" fill="#1fa5b8"/>
<polygon points="163.1,582 168.4,565.4 163.1,565.4" fill="#2ab5c6"/>
<circle cx="167.9" cy="584.4" r="1.1" fill="none" stroke="#5e8297" stroke-width="0.5"/>
<polygon points="168.6,576.4 171,570.6 176,575.2" fill="#fff"/>
<circle cx="175.3" cy="568.4" r="7.5" fill="#fff"/>
<path d="M179.90,568.40 L181.49,568.69 L181.05,570.73 L179.48,570.33 L178.55,571.65 L179.47,572.99 L177.72,574.11 L176.89,572.72 L175.30,573.00 L175.01,574.59 L172.97,574.15 L173.37,572.58 L172.05,571.65 L170.71,572.57 L169.59,570.82 L170.98,569.99 L170.70,568.40 L169.11,568.11 L169.55,566.07 L171.12,566.47 L172.05,565.15 L171.13,563.81 L172.88,562.69 L173.71,564.08 L175.30,563.80 L175.59,562.21 L177.63,562.65 L177.23,564.22 L178.55,565.15 L179.89,564.23 L181.01,565.98 L179.62,566.81 Z" fill="#1d3f58"/>
<circle cx="175.3" cy="568.4" r="4.7" fill="#1d3f58"/><circle cx="175.3" cy="568.4" r="2" fill="#fff"/>
<path d="M179.60,580.20 L180.30,580.33 L180.10,581.21 L179.42,581.04 L179.01,581.61 L179.42,582.20 L178.65,582.69 L178.29,582.08 L177.60,582.20 L177.47,582.90 L176.59,582.70 L176.76,582.02 L176.19,581.61 L175.60,582.02 L175.11,581.25 L175.72,580.89 L175.60,580.20 L174.90,580.07 L175.10,579.19 L175.78,579.36 L176.19,578.79 L175.78,578.20 L176.55,577.71 L176.91,578.32 L177.60,578.20 L177.73,577.50 L178.61,577.70 L178.44,578.38 L179.01,578.79 L179.60,578.38 L180.09,579.15 L179.48,579.51 Z" fill="#fdeeb8"/><circle cx="177.6" cy="580.2" r="2.05" fill="#fdeeb8"/><circle cx="177.6" cy="580.2" r="0.8" fill="#f9bb1b"/>
<circle cx="170.5" cy="632.3" r="22.2" fill="#fbbf15"/>
<clipPath id="c7"><circle cx="170.5" cy="632.3" r="22.2"/></clipPath>
<polygon points="181.7,624.7 205.0,648.0 185.0,668.0 158.4,641.8" fill="#f8a122" opacity="1" clip-path="url(#c7)"/>
<path d="M159,624.7 L166.6,624.7 L168.2,622.1 L177.2,622.1 L178.8,624.7 L180.7,624.7 Q181.7,624.7 181.7,625.7 L181.7,640.8 Q181.7,641.8 180.7,641.8 L159,641.8 Q158,641.8 158,640.8 L158,625.7 Q158,624.7 159,624.7Z" fill="#1a3d57"/>
<path d="M159,624.7 L164.2,624.7 L164.2,641.8 L159,641.8 Q158,641.8 158,640.8 L158,625.7 Q158,624.7 159,624.7Z" fill="#2e6585"/>
<rect x="169.3" y="623" width="6.8" height="1.9" fill="#e8f4f8"/>
<circle cx="172" cy="633.2" r="5.6" fill="#1a3d57" stroke="#e8f4f8" stroke-width="0.6"/><circle cx="172" cy="633.2" r="4.2" fill="#1a3d57" stroke="#e8f4f8" stroke-width="0.5"/><circle cx="172" cy="633.2" r="3.3" fill="#fff"/>
<circle cx="175" cy="618.4" r="0.6" fill="#fde9a8"/>
</g>
<g id="checks" font-family="&quot;DejaVu Sans&quot;, sans-serif" font-size="46.08" stroke-width="0.25" stroke-linejoin="round">
<text x="359.37" y="327.82" fill="#0b800b" stroke="#0b800b">✔</text>
<text x="808.37" y="327.82" fill="#ff19f0" stroke="#ff19f0">✔</text>
<text x="968.37" y="327.82" fill="#720a80" stroke="#720a80">✔</text>
<text x="201.87" y="380.82" fill="#ff6a00" stroke="#ff6a00">✔</text>
<text x="411.87" y="380.82" fill="#0b800b" stroke="#0b800b">✔</text>
<text x="563.87" y="380.82" fill="#0a0ae6" stroke="#0a0ae6">✔</text>
<text x="659.87" y="380.82" fill="#0a0ae6" stroke="#0a0ae6">✔</text>
<text x="707.37" y="380.82" fill="#0a0ae6" stroke="#0a0ae6">✔</text>
<text x="756.87" y="380.82" fill="#ff19f0" stroke="#ff19f0">✔</text>
<text x="808.37" y="380.82" fill="#ff19f0" stroke="#ff19f0">✔</text>
<text x="968.37" y="380.82" fill="#720a80" stroke="#720a80">✔</text>
<text x="359.37" y="434.82" fill="#0b800b" stroke="#0b800b">✔</text>
<text x="411.87" y="434.82" fill="#0b800b" stroke="#0b800b">✔</text>
<text x="514.87" y="434.82" fill="#0b800b" stroke="#0b800b">✔</text>
<text x="808.37" y="434.82" fill="#ff19f0" stroke="#ff19f0">✔</text>
<text x="858.87" y="434.82" fill="#ff19f0" stroke="#ff19f0">✔</text>
<text x="255.37" y="487.82" fill="#ff6a00" stroke="#ff6a00">✔</text>
<text x="307.37" y="487.82" fill="#ff6a00" stroke="#ff6a00">✔</text>
<text x="463.87" y="487.82" fill="#0b800b" stroke="#0b800b">✔</text>
<text x="707.37" y="487.82" fill="#0a0ae6" stroke="#0a0ae6">✔</text>
<text x="808.37" y="487.82" fill="#ff19f0" stroke="#ff19f0">✔</text>
<text x="858.87" y="487.82" fill="#ff19f0" stroke="#ff19f0">✔</text>
<text x="808.37" y="541.82" fill="#ff19f0" stroke="#ff19f0">✔</text>
<text x="707.37" y="595.82" fill="#0a0ae6" stroke="#0a0ae6">✔</text>
<text x="911.87" y="595.82" fill="#720a80" stroke="#720a80">✔</text>
<text x="611.87" y="648.82" fill="#0a0ae6" stroke="#0a0ae6">✔</text>
<text x="707.37" y="648.82" fill="#0a0ae6" stroke="#0a0ae6">✔</text>
<text x="808.37" y="648.82" fill="#ff19f0" stroke="#ff19f0">✔</text>
</g>
</svg></body></html>
